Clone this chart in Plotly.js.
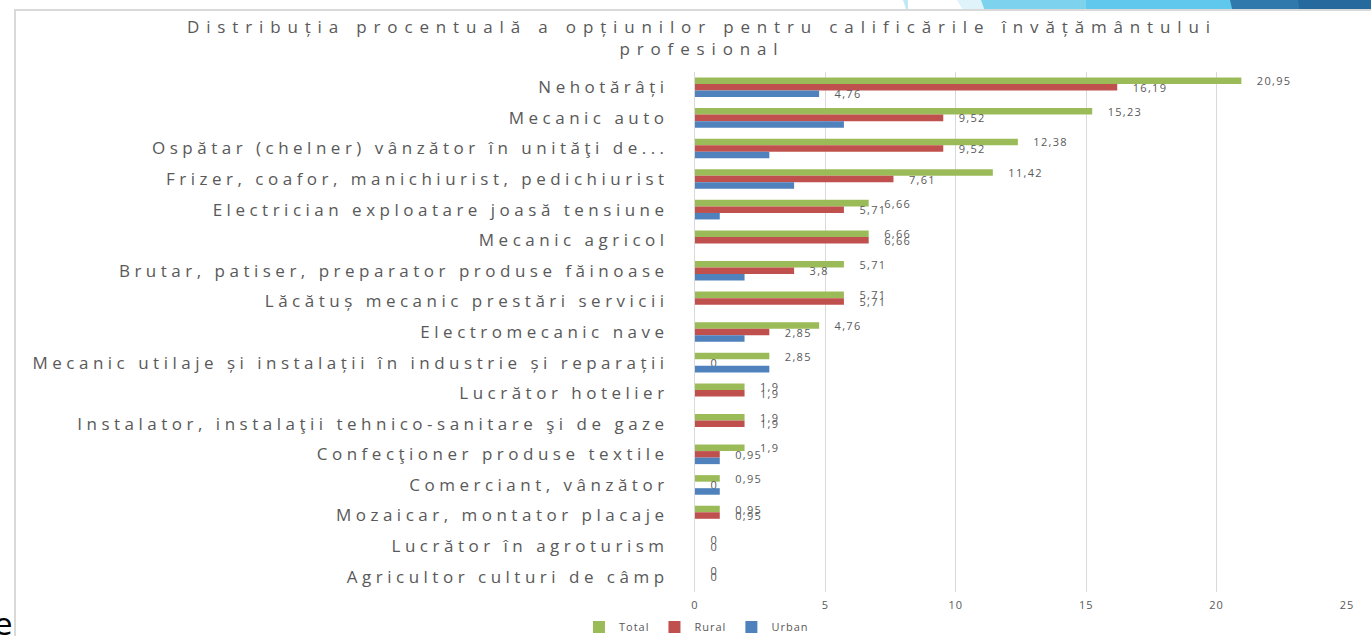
<!DOCTYPE html>
<html>
<head>
<meta charset="utf-8">
<script src="https://cdn.plot.ly/plotly-3.0.1.min.js"></script>
<style>
  html, body { margin:0; padding:0; background:#fff; overflow:hidden; }
  #wrap { position:relative; width:1371px; height:636px; }
  #chart { position:absolute; left:0; top:0; width:1371px; height:636px; }
  #frame { position:absolute; left:14px; top:9px; width:1400px; height:700px;
           border-left:2px solid #d9d9d9; border-top:2px solid #d9d9d9; pointer-events:none; }
  .band { position:absolute; top:0; height:9px; }
  #eglyph { position:absolute; left:-6px; top:610px; font-family:"DejaVu Sans", sans-serif;
            font-size:30px; color:#000; line-height:30px; }
  .ytick text { letter-spacing:4.5px; }
  .gtitle { letter-spacing:6.85px; }
  text.bartext { letter-spacing:1.3px; }
  .xtick text { letter-spacing:1px; }
  .legendtext { letter-spacing:1px; }
</style>
</head>
<body>
<div id="wrap">
  <div id="chart"></div>
  <div id="frame"></div>
  <div class="band" style="left:903px;width:5px;background:#bfe9f7;clip-path:polygon(0 0,100% 0,100% 100%,60% 100%);"></div>
  <div class="band" style="left:957px;width:30px;background:#dff3fb;clip-path:polygon(0 0,100% 0,100% 100%,18% 100%);"></div>
  <div class="band" style="left:981px;width:108px;background:#7dd3ee;clip-path:polygon(0 0,100% 0,97% 100%,3% 100%);"></div>
  <div class="band" style="left:1086px;width:148px;background:#5fc8ec;"></div>
  <div class="band" style="left:1230px;width:70px;background:#2f79ad;clip-path:polygon(0 0,100% 0,100% 100%,3% 100%);"></div>
  <div class="band" style="left:1298px;width:73px;background:#26699c;clip-path:polygon(0 0,100% 0,100% 100%,2% 100%);"></div>
  <div id="eglyph">e</div>
</div>
<script>
const categories = [
  "Nehotărâți",
  "Mecanic auto",
  "Ospătar (chelner) vânzător în unităţi de...",
  "Frizer, coafor, manichiurist, pedichiurist",
  "Electrician exploatare joasă tensiune",
  "Mecanic agricol",
  "Brutar, patiser, preparator produse făinoase",
  "Lăcătuș mecanic prestări servicii",
  "Electromecanic nave",
  "Mecanic utilaje și instalații în industrie și reparații",
  "Lucrător hotelier",
  "Instalator, instalaţii tehnico-sanitare şi de gaze",
  "Confecţioner produse textile",
  "Comerciant, vânzător",
  "Mozaicar, montator placaje",
  "Lucrător în agroturism",
  "Agricultor culturi de câmp"
];
const total = [20.95, 15.23, 12.38, 11.42, 6.66, 6.66, 5.71, 5.71, 4.76, 2.85, 1.9, 1.9, 1.9, 0.95, 0.95, 0, 0];
const rural = [16.19, 9.52, 9.52, 7.61, 5.71, 6.66, 3.8, 5.71, 2.85, 0, 1.9, 1.9, 0.95, 0, 0.95, 0, 0];
const urban = [4.76, 5.71, 2.85, 3.8, 0.95, 0, 1.9, 0, 1.9, 2.85, 0, 0, 0.95, 0.95, 0, 0, 0];
const urbanLabelled = [true, false, false, false, false, false, false, false, false, false, false, false, false, false, false, false, false];
const xTicks = [0, 5, 10, 15, 20, 25];

const pad = "\u00a0\u00a0\u00a0";
const fmt = v => pad + String(v).replace(".", ",");

const colors = { Total: "#9BBB59", Rural: "#C0504D", Urban: "#4F81BD" };
const textFont = { family: "Open Sans, sans-serif", size: 11, color: "#595959" };

function barTrace(name, vals, texts) {
  return {
    type: "bar", orientation: "h", name: name,
    y: categories, x: vals,
    text: texts, textposition: "outside", constraintext: "none", cliponaxis: false,
    textfont: textFont, outsidetextfont: textFont,
    marker: { color: colors[name] },
    hoverinfo: "x+name"
  };
}

const data = [
  barTrace("Total", total, total.map(fmt)),
  barTrace("Rural", rural, rural.map(fmt)),
  barTrace("Urban", urban, urban.map((v, i) => urbanLabelled[i] ? fmt(v) : ""))
];

const layout = {
  width: 1371, height: 636,
  paper_bgcolor: "rgba(0,0,0,0)", plot_bgcolor: "rgba(0,0,0,0)",
  margin: { l: 695, r: 24, t: 72, b: 44, pad: 0, autoexpand: false },
  barmode: "group", bargap: 0.36, bargroupgap: 0,
  title: {
    text: "Distribuția procentuală a opțiunilor pentru calificările învățământului<br>profesional",
    font: { family: "Open Sans, sans-serif", size: 17, color: "#595959" },
    xref: "container", x: 0.512, xanchor: "center",
    yref: "container", y: 0.948, yanchor: "top"
  },
  xaxis: {
    range: [0, 25], tickvals: xTicks, ticktext: xTicks.map(String),
    showgrid: true, gridcolor: "#d9d9d9", gridwidth: 1,
    zeroline: false, showline: false, ticks: "",
    tickfont: { family: "Open Sans, sans-serif", size: 11, color: "#595959" },
    ticklabelstandoff: 5, fixedrange: true
  },
  yaxis: {
    type: "category", autorange: "reversed",
    showline: true, linecolor: "#d9d9d9", linewidth: 1,
    showgrid: false, ticks: "",
    tickfont: { family: "Open Sans, sans-serif", size: 17, color: "#595959" },
    ticklabelstandoff: 22, fixedrange: true
  },
  showlegend: true,
  legend: {
    orientation: "h",
    xref: "container", x: 0.508, xanchor: "center",
    yref: "container", y: 0.014, yanchor: "middle",
    font: { family: "Open Sans, sans-serif", size: 11, color: "#595959" },
    traceorder: "normal", itemwidth: 30
  }
};

Plotly.newPlot("chart", data, layout, { displayModeBar: false, staticPlot: true });
</script>
</body>
</html>
